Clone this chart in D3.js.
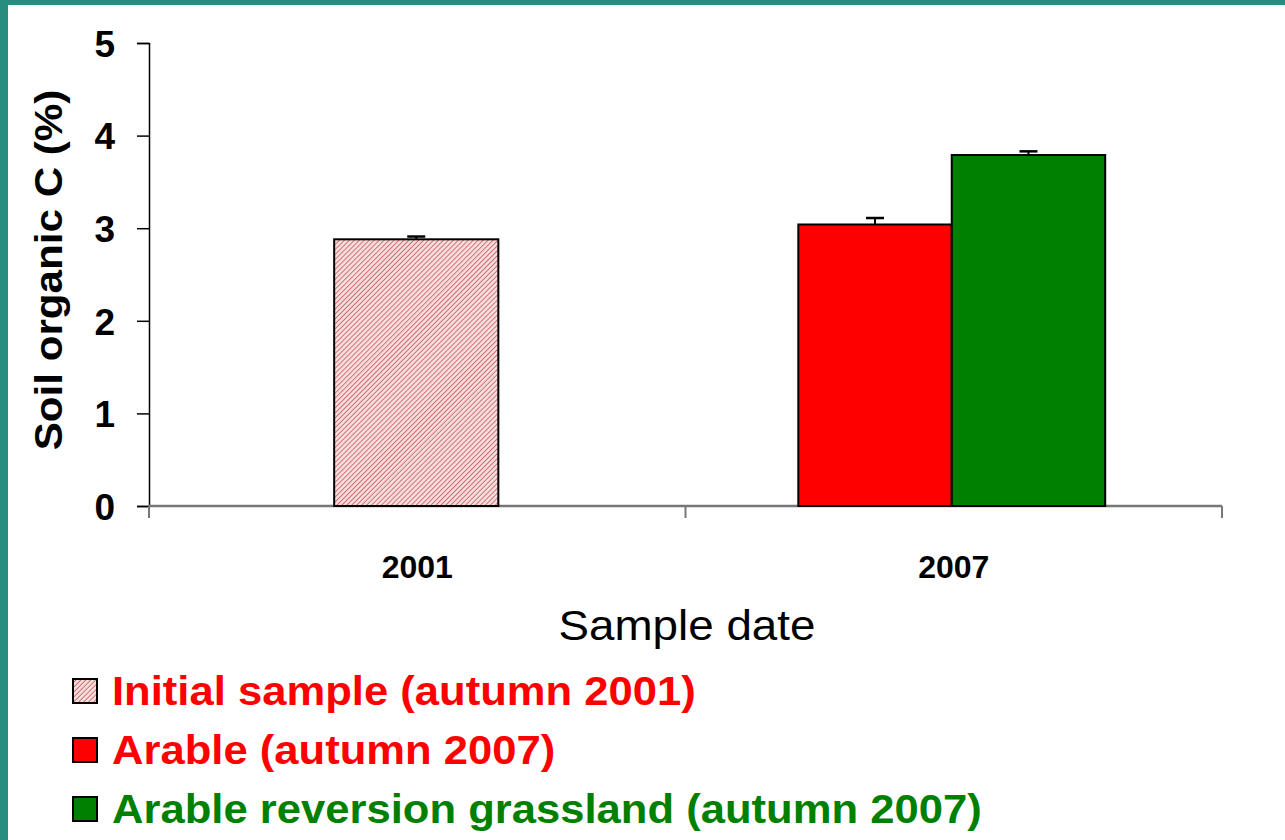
<!DOCTYPE html>
<html>
<head>
<meta charset="utf-8">
<script src="https://cdn.jsdelivr.net/npm/d3@7/dist/d3.min.js"></script>
<style>
  html, body { margin: 0; padding: 0; background: #ffffff; }
  svg { display: block; }
  text { font-family: "Liberation Sans", Arial, sans-serif; }
</style>
</head>
<body>
<svg id="chart" width="1285" height="840"></svg>
<script>
// ---- data ----
const categories = ["2001", "2007"];
const seriesNames = ["Initial sample (autumn 2001)", "Arable (autumn 2007)", "Arable reversion grassland (autumn 2007)"];
const seriesCategory = ["2001", "2007", "2007"];
const seriesValues = [2.88, 3.04, 3.79];
const seriesErrors = [0.03, 0.07, 0.04];
const yTicks = [0, 1, 2, 3, 4, 5];
const yLabel = "Soil organic C (%)";
const xLabel = "Sample date";

// ---- styles ----
const fills = ["url(#hatch)", "#ff0000", "#008000"];
const legendColors = ["#ff0000", "#ff0000", "#008000"];
const stretch = 1.11;       // horizontal stretch of y title
const legendStretch = 1.09; // horizontal stretch of legend text

const svg = d3.select("#chart");
const W = 1285, H = 840;

// background & teal frame
svg.append("rect").attr("x", 0).attr("y", 0).attr("width", W).attr("height", H).attr("fill", "#ffffff");
svg.append("rect").attr("x", 0).attr("y", 0).attr("width", W).attr("height", 5).attr("fill", "#288c7f");
svg.append("rect").attr("x", 0).attr("y", 0).attr("width", 8).attr("height", H).attr("fill", "#288c7f");

// hatch pattern
const defs = svg.append("defs");
const pat = defs.append("pattern").attr("id", "hatch").attr("patternUnits", "userSpaceOnUse")
  .attr("width", 3.5).attr("height", 3.5).attr("patternTransform", "rotate(45)");
pat.append("rect").attr("width", 3.5).attr("height", 3.5).attr("fill", "#f6dcdc");
pat.append("line").attr("x1", 0).attr("y1", 0).attr("x2", 0).attr("y2", 3.5)
  .attr("stroke", "#c85a5a").attr("stroke-width", 1.6);

const plot = { left: 149, right: 1222, top: 43, bottom: 506 };

const x = d3.scaleBand().domain(categories).range([plot.left, plot.right]).padding(0);
const y = d3.scaleLinear().domain([0, 5]).range([plot.bottom, plot.top]);

// y axis
const yAxis = d3.axisLeft(y).tickValues(yTicks).tickSize(12).tickFormat(d3.format("d"));
const gy = svg.append("g").attr("transform", `translate(${plot.left},0)`).call(yAxis);
gy.select(".domain").attr("stroke", "#000").attr("stroke-width", 1.5);
gy.selectAll(".tick line").attr("stroke", "#000").attr("stroke-width", 1.5);
gy.selectAll(".tick text").attr("x", -34).attr("dy", "0.36em")
  .attr("font-size", 37).attr("font-weight", "bold").attr("fill", "#000")
  .attr("font-family", "Liberation Sans, Arial, sans-serif");

// x axis
const xTickScale = d3.scaleLinear().domain([0, categories.length]).range([plot.left, plot.right]);
const gx = svg.append("g").attr("transform", `translate(0,${plot.bottom})`);
gx.append("line").attr("x1", plot.left).attr("x2", plot.right).attr("y1", 0).attr("y2", 0)
  .attr("stroke", "#777").attr("stroke-width", 2.5);
gx.selectAll("line.tk").data(d3.range(categories.length + 1)).join("line").attr("class", "tk")
  .attr("x1", d => xTickScale(d)).attr("x2", d => xTickScale(d))
  .attr("y1", 0).attr("y2", 12).attr("stroke", "#777").attr("stroke-width", 2);
gx.selectAll("text").data(categories).join("text")
  .attr("x", d => x(d) + x.bandwidth() / 2).attr("y", 72)
  .attr("text-anchor", "middle").attr("font-size", 32).attr("font-weight", "bold").attr("fill", "#000")
  .text(d => d);

// bars
const bars = seriesNames.map((n, i) => ({ name: n, cat: seriesCategory[i], value: seriesValues[i], err: seriesErrors[i], idx: i }));
const groupFrac = { 1: 0.306, 2: 0.572 };
categories.forEach(cat => {
  const inGroup = bars.filter(b => b.cat === cat);
  const gw = x.bandwidth() * groupFrac[inGroup.length];
  const cx = x(cat) + x.bandwidth() / 2 - (inGroup.length > 1 ? 2 : 1);
  const inner = d3.scaleBand().domain(inGroup.map(b => b.name)).range([cx - gw / 2, cx + gw / 2]).padding(0);
  inGroup.forEach(b => { b.x0 = inner(b.name); b.w = inner.bandwidth(); });
});

const gb = svg.append("g");
gb.selectAll("rect").data(bars).join("rect")
  .attr("x", d => d.x0).attr("width", d => d.w)
  .attr("y", d => y(d.value)).attr("height", d => y(0) - y(d.value))
  .attr("fill", d => fills[d.idx]).attr("stroke", "#000").attr("stroke-width", 2);

// error bars (upper only)
const ge = svg.append("g");
ge.selectAll("line.v").data(bars).join("line").attr("class", "v")
  .attr("x1", d => d.x0 + d.w / 2).attr("x2", d => d.x0 + d.w / 2)
  .attr("y1", d => y(d.value)).attr("y2", d => y(d.value + d.err))
  .attr("stroke", "#000").attr("stroke-width", 2);
ge.selectAll("line.c").data(bars).join("line").attr("class", "c")
  .attr("x1", d => d.x0 + d.w / 2 - 9).attr("x2", d => d.x0 + d.w / 2 + 9)
  .attr("y1", d => y(d.value + d.err)).attr("y2", d => y(d.value + d.err))
  .attr("stroke", "#000").attr("stroke-width", 2.5);

// axis titles
svg.append("text").attr("transform", `translate(62,270) rotate(-90) scale(${stretch},1)`)
  .attr("text-anchor", "middle").attr("font-size", 38).attr("font-weight", "bold").attr("fill", "#000")
  .text(yLabel);
svg.append("text").attr("transform", "translate(687,640) scale(1.09,1)")
  .attr("text-anchor", "middle").attr("font-size", 42).attr("fill", "#000")
  .text(xLabel);

// legend
const lg = svg.append("g");
const rowY = d3.scaleLinear().domain([0, 1]).range([691, 750]);
const rows = lg.selectAll("g").data(seriesNames).join("g")
  .attr("transform", (d, i) => `translate(0,${rowY(i)})`);
rows.append("rect").attr("x", 73).attr("y", -12).attr("width", 24).attr("height", 24)
  .attr("fill", (d, i) => fills[i]).attr("stroke", "#000").attr("stroke-width", 2);
rows.append("text").attr("transform", `translate(112,14) scale(${legendStretch},1)`)
  .attr("font-size", 40).attr("font-weight", "bold")
  .attr("fill", (d, i) => legendColors[i]).text(d => d);
</script>
</body>
</html>
